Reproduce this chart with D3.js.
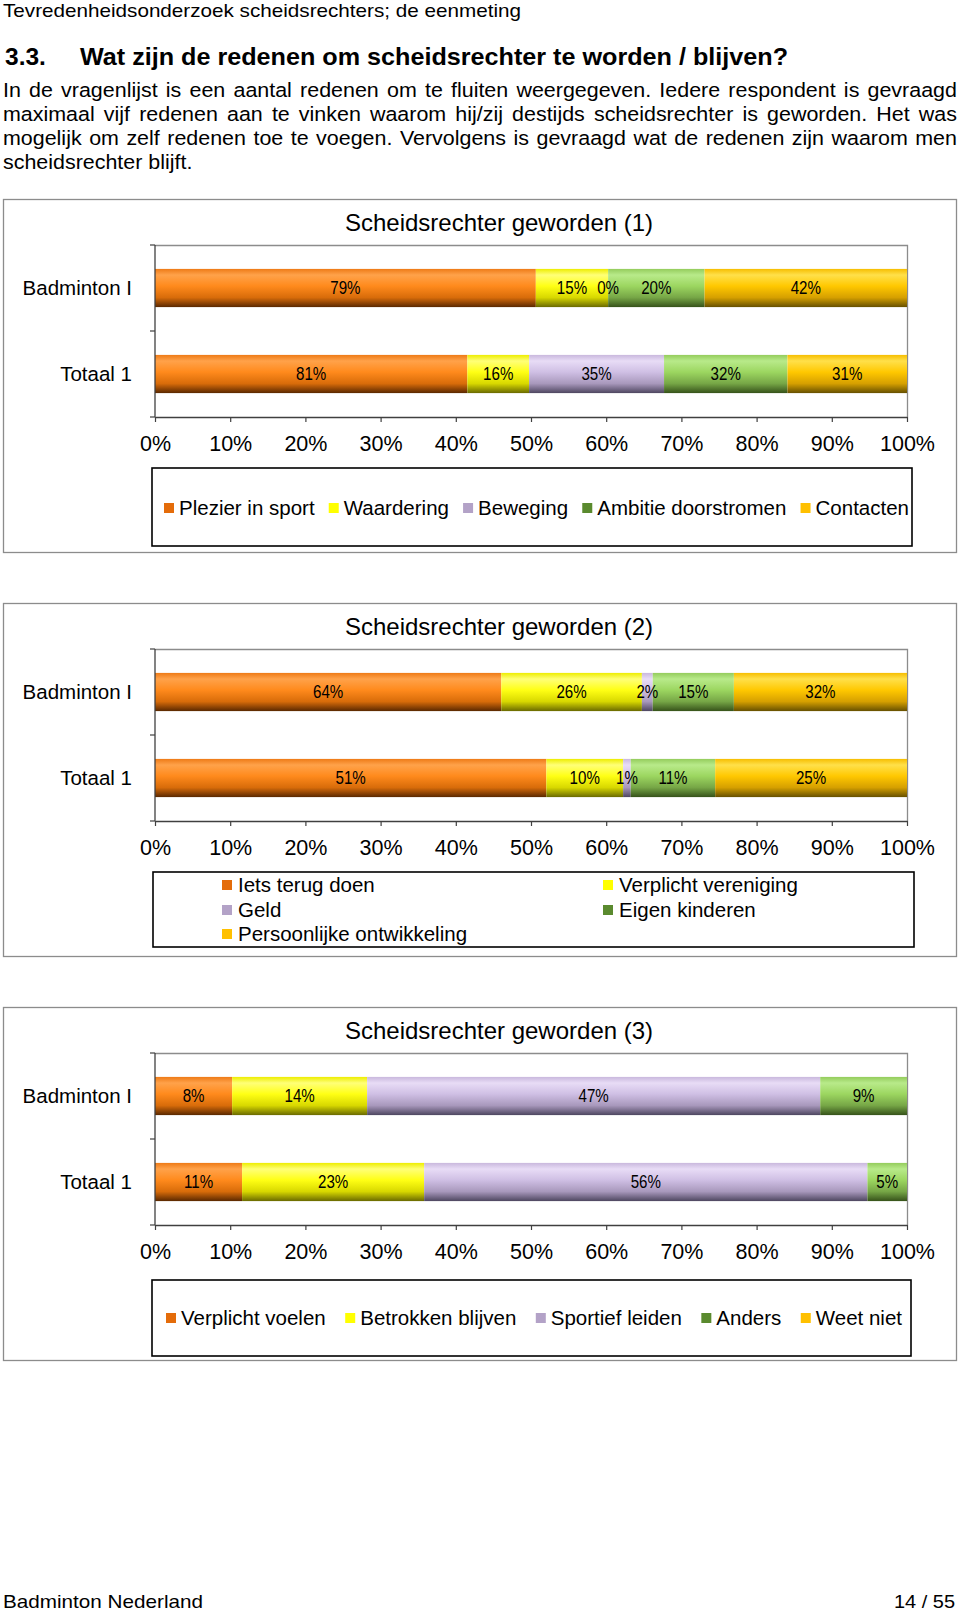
<!DOCTYPE html>
<html><head><meta charset="utf-8">
<script src="https://cdn.jsdelivr.net/npm/d3@7"></script>
<style>
body{margin:0;background:#fff}
svg{display:block}
text{font-family:"Liberation Sans",Arial,Helvetica,sans-serif;fill:#000}
</style>
</head><body>
<svg id="page" width="960" height="1613"></svg>
<script>
// ---------------- DATA ----------------
const categories = ["Badminton I", "Totaal 1"];
const xTickValues = [0, 0.1, 0.2, 0.3, 0.4, 0.5, 0.6, 0.7, 0.8, 0.9, 1];
const xTickLabels = ["0%", "10%", "20%", "30%", "40%", "50%", "60%", "70%", "80%", "90%", "100%"];

const chart1Title = "Scheidsrechter geworden (1)";
const chart1Series = ["Plezier in sport", "Waardering", "Beweging", "Ambitie doorstromen", "Contacten"];
const chart1Badminton = [79, 15, 0, 20, 42];
const chart1Totaal = [81, 16, 35, 32, 31];

const chart2Title = "Scheidsrechter geworden (2)";
const chart2Series = ["Iets terug doen", "Verplicht vereniging", "Geld", "Eigen kinderen", "Persoonlijke ontwikkeling"];
const chart2Badminton = [64, 26, 2, 15, 32];
const chart2Totaal = [51, 10, 1, 11, 25];

const chart3Title = "Scheidsrechter geworden (3)";
const chart3Series = ["Verplicht voelen", "Betrokken blijven", "Sportief leiden", "Anders", "Weet niet"];
const chart3Badminton = [8, 14, 47, 9, null];
const chart3Totaal = [11, 23, 56, 5, null];

// ---------------- STYLES ----------------
const legendColors = ["#E46C0A", "#FFFF00", "#B3A2C7", "#5A8A2E", "#FFC000"];
const barShades = [
  ["#EE7A16", "#FFA24A", "#FF8A1C", "#D86C0A", "#5A2800"],
  ["#EDED00", "#FFFF78", "#FFFF14", "#D8D800", "#6A6A00"],
  ["#C9B8DD", "#E8DCF6", "#CFBFE4", "#A898BC", "#4E4660"],
  ["#94CC5C", "#B8EA8A", "#9CD660", "#76A646", "#36521A"],
  ["#F6BE00", "#FFE04A", "#FFC800", "#D6A000", "#665000"]
];
const shadeOffsets = [0, 0.16, 0.45, 0.75, 1];

const svg = d3.select("#page");
const defs = svg.append("defs");
barShades.forEach((stops, j) => {
  const lg = defs.append("linearGradient").attr("id", "grad" + j)
    .attr("x1", 0).attr("y1", 0).attr("x2", 0).attr("y2", 1);
  stops.forEach((c, k) => lg.append("stop").attr("offset", shadeOffsets[k]).attr("stop-color", c));
});

function measure(str, size, weight) {
  const t = svg.append("text").attr("font-size", size).attr("font-weight", weight || "normal").text(str);
  const w = t.node().getComputedTextLength();
  t.remove();
  return w;
}

// ---------------- PAGE TEXT ----------------
const SX = 1.1; // horizontal stretch of the document body text
svg.append("text").attr("x", 3).attr("y", 17).attr("font-size", 19)
  .attr("textLength", 518).attr("lengthAdjust", "spacingAndGlyphs")
  .text("Tevredenheidsonderzoek scheidsrechters; de eenmeting");

svg.append("text").attr("x", 5).attr("y", 65).attr("font-size", 24.5).attr("font-weight", "bold").text("3.3.");
svg.append("text").attr("x", 80).attr("y", 65).attr("font-size", 24.5).attr("font-weight", "bold")
  .attr("textLength", 708).attr("lengthAdjust", "spacingAndGlyphs")
  .text("Wat zijn de redenen om scheidsrechter te worden / blijven?");

const paraLines = [
  "In de vragenlijst is een aantal redenen om te fluiten weergegeven. Iedere respondent is gevraagd",
  "maximaal vijf redenen aan te vinken waarom hij/zij destijds scheidsrechter is geworden. Het was",
  "mogelijk om zelf redenen toe te voegen. Vervolgens is gevraagd wat de redenen zijn waarom men",
  "scheidsrechter blijft."
];
const paraSize = 19.5;
const paraG = svg.append("g").attr("transform", `scale(${SX},1)`);
paraLines.forEach((line, i) => {
  const yb = 97 + i * 24;
  if (i < 3) {
    const words = line.split(" ");
    const ws = words.map(w => measure(w, paraSize));
    const gap = (954 / SX - d3.sum(ws)) / (words.length - 1);
    const t = paraG.append("text").attr("y", yb).attr("font-size", paraSize);
    let xx = 3 / SX;
    words.forEach((w, k) => { t.append("tspan").attr("x", xx).text(w); xx += ws[k] + gap; });
  } else {
    paraG.append("text").attr("x", 3 / SX).attr("y", yb).attr("font-size", paraSize).text(line);
  }
});

svg.append("text").attr("x", 3).attr("y", 1608).attr("font-size", 19)
  .attr("textLength", 200).attr("lengthAdjust", "spacingAndGlyphs").text("Badminton Nederland");
svg.append("text").attr("x", 955).attr("y", 1608).attr("font-size", 19).attr("text-anchor", "end")
  .attr("textLength", 61).attr("lengthAdjust", "spacingAndGlyphs").text("14 / 55");

// ---------------- CHARTS ----------------
const charts = [
  { top: 199, title: chart1Title, series: chart1Series, rows: [chart1Badminton, chart1Totaal],
    legend: { type: "row", box: [152, 468, 912, 546], x0: 164, x1: 909, y: 508 } },
  { top: 603, title: chart2Title, series: chart2Series, rows: [chart2Badminton, chart2Totaal],
    legend: { type: "grid", box: [153, 872, 914, 947], pos: [[222, 885], [603, 885], [222, 910], [603, 910], [222, 934]] } },
  { top: 1007, title: chart3Title, series: chart3Series, rows: [chart3Badminton, chart3Totaal],
    legend: { type: "row", box: [152, 1280, 911, 1356], x0: 166, x1: 902, y: 1318 } }
];

const plotL = 155, plotR = 907;

function drawChart(cfg) {
  const T = cfg.top;
  const g = svg.append("g");
  g.append("rect").attr("x", 3.5).attr("y", T + 0.5).attr("width", 953).attr("height", 353)
    .attr("fill", "#fff").attr("stroke", "#8c8c8c").attr("stroke-width", 1.3);
  g.append("text").attr("x", 499).attr("y", T + 31.5).attr("text-anchor", "middle")
    .attr("font-size", 24).text(cfg.title);

  const pTop = T + 46, pBot = T + 218;
  const x = d3.scaleLinear().domain([0, 1]).range([plotL, plotR]);
  const y = d3.scaleBand().domain(categories).range([pTop, pBot]).paddingInner(0.556).paddingOuter(0.278);

  const rows = categories.map((c, i) => {
    const o = { category: c };
    cfg.series.forEach((s, j) => o[s] = cfg.rows[i][j]);
    return o;
  });
  const layers = d3.stack().keys(cfg.series)
    .value((d, k) => d[k] == null ? 0 : d[k])
    .offset(d3.stackOffsetExpand)(rows);

  g.append("path").attr("d", `M${plotL},${pTop + 0.5}H${plotR + 0.5}V${pBot}`)
    .attr("fill", "none").attr("stroke", "#8c8c8c").attr("stroke-width", 1.3);

  layers.forEach((layer, j) => {
    g.append("g").selectAll("rect").data(layer).join("rect")
      .attr("x", d => x(d[0])).attr("width", d => Math.max(0, x(d[1]) - x(d[0])))
      .attr("y", d => y(d.data.category)).attr("height", y.bandwidth())
      .attr("fill", `url(#grad${j})`);
  });

  layers.forEach(layer => {
    layer.forEach(d => {
      const v = d.data[layer.key];
      if (v == null) return;
      const t = g.append("text")
        .attr("x", (x(d[0]) + x(d[1])) / 2)
        .attr("y", y(d.data.category) + y.bandwidth() / 2 + 6.3)
        .attr("text-anchor", "middle").attr("font-size", 18).text(v + "%");
      const w = t.node().getComputedTextLength();
      t.attr("textLength", w * 0.84).attr("lengthAdjust", "spacingAndGlyphs");
    });
  });

  const xAxis = d3.axisBottom(x).tickValues(xTickValues)
    .tickFormat((d, i) => xTickLabels[i]).tickSize(5).tickSizeOuter(0).tickPadding(14);
  const ax = g.append("g").attr("transform", `translate(0,${pBot})`).call(xAxis);
  ax.select(".domain").attr("stroke", "#404040").attr("stroke-width", 1.3);
  ax.selectAll(".tick line").attr("stroke", "#404040").attr("stroke-width", 1.2);
  ax.selectAll(".tick text").attr("font-size", 21.5).attr("fill", "#000")
    .attr("font-family", '"Liberation Sans",Arial,Helvetica,sans-serif');

  g.append("line").attr("x1", plotL).attr("x2", plotL).attr("y1", pTop).attr("y2", pBot)
    .attr("stroke", "#404040").attr("stroke-width", 1.3);
  const step = y.step();
  const bounds = [pTop].concat(categories.slice(0, -1).map(c => y(c) + y.bandwidth() + (step - y.bandwidth()) / 2)).concat([pBot]);
  bounds.forEach(b => g.append("line").attr("x1", plotL - 5).attr("x2", plotL).attr("y1", b).attr("y2", b)
    .attr("stroke", "#404040").attr("stroke-width", 1.2));
  categories.forEach(c => g.append("text").attr("x", 132).attr("y", y(c) + y.bandwidth() / 2 + 7.3)
    .attr("text-anchor", "end").attr("font-size", 20.5).text(c));

  const L = cfg.legend;
  g.append("rect").attr("x", L.box[0]).attr("y", L.box[1]).attr("width", L.box[2] - L.box[0]).attr("height", L.box[3] - L.box[1])
    .attr("fill", "#fff").attr("stroke", "#000").attr("stroke-width", 1.6);
  const fs = 20.5;
  if (L.type === "row") {
    const widths = cfg.series.map(s => measure(s, fs));
    const itemW = widths.map(w => 10 + 5 + w);
    const gap = (L.x1 - L.x0 - d3.sum(itemW)) / (cfg.series.length - 1);
    let xx = L.x0;
    cfg.series.forEach((s, j) => {
      g.append("rect").attr("x", xx).attr("y", L.y - 5).attr("width", 10).attr("height", 10).attr("fill", legendColors[j]);
      g.append("text").attr("x", xx + 15).attr("y", L.y + 7.3).attr("font-size", fs).text(s);
      xx += itemW[j] + gap;
    });
  } else {
    cfg.series.forEach((s, j) => {
      const [px, py] = L.pos[j];
      g.append("rect").attr("x", px).attr("y", py - 5).attr("width", 10).attr("height", 10).attr("fill", legendColors[j]);
      g.append("text").attr("x", px + 16).attr("y", py + 7.3).attr("font-size", fs).text(s);
    });
  }
}

charts.forEach(drawChart);
</script>
</body></html>
